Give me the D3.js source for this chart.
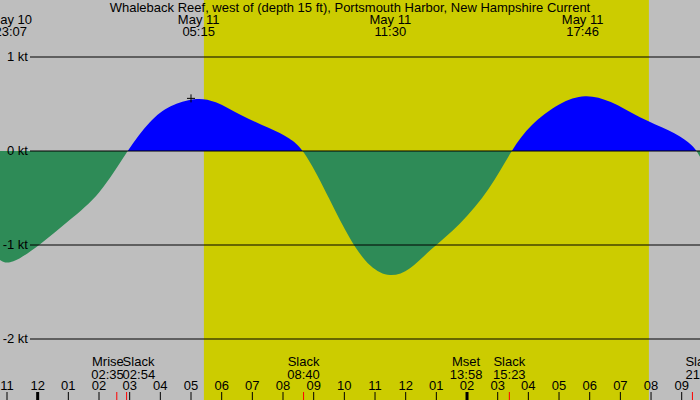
<!DOCTYPE html>
<html><head><meta charset="utf-8">
<script src="https://cdn.jsdelivr.net/npm/d3@7"></script>
<style>body{margin:0}svg{display:block;font-family:"Liberation Sans",Arial,sans-serif;font-size:13px}</style>
</head><body><svg id="c" width="700" height="400"></svg>
<script>
// hours since May 10 23:00
const curveT = [-0.23,0.1,1.08,2.05,3.03,3.91,4.66,5.31,6.13,6.78,7.6,8.58,9.23,9.72,10.53,11.18,11.84,12.49,13.14,13.79,14.77,15.75,16.43,17.05,18.03,18.85,19.66,20.64,21.62,22.27,22.5,22.66];
const curveV = [-1.16,-1.22,-1.0,-0.73,-0.47,0,0.33,0.49,0.57,0.54,0.38,0.24,0.14,0,-0.52,-0.95,-1.25,-1.35,-1.27,-1.05,-0.79,-0.41,0,0.28,0.52,0.61,0.54,0.35,0.22,0.09,0,-0.1];
const dayStart = 6.42, dayEnd = 20.93;
const hourLabels = ["11","12","01","02","03","04","05","06","07","08","09","10","11","12","01","02","03","04","05","06","07","08","09"];
const majorTicks = [1, 15];
const ktLevels = [1,0,-1,-2];
const topLabels = [{t:0.12,a:"May 10",b:"23:07"},{t:6.25,a:"May 11",b:"05:15"},{t:12.5,a:"May 11",b:"11:30"},{t:18.77,a:"May 11",b:"17:46"}];
const events = [{t:3.58,a:"Mrise",b:"02:35",anchor:"end",dx:7},{t:3.9,a:"Slack",b:"02:54",anchor:"start",dx:-4},{t:9.67,a:"Slack",b:"08:40"},{t:14.97,a:"Mset",b:"13:58"},{t:16.38,a:"Slack",b:"15:23"},{t:22.35,a:"Slack",b:"21:21",anchor:"start",dx:-7}];
const redTicks = [3.58,3.9,9.67,16.38,22.35];

const svg = d3.select("#c");
const x = d3.scaleLinear().domain([0,22]).range([7,681.7]);
const y = d3.scaleLinear().domain([1,-2]).range([57,339]);

svg.append("rect").attr("width",700).attr("height",400).attr("fill","#bebebe");
svg.append("rect").attr("x",x(dayStart)).attr("width",x(dayEnd)-x(dayStart)).attr("y",0).attr("height",400).attr("fill","#cccc00");

const pts = curveT.map((t,i)=>[t,curveV[i]]);
const defs = svg.append("defs");
defs.append("clipPath").attr("id","pos").append("rect").attr("x",0).attr("y",0).attr("width",700).attr("height",y(0));
defs.append("clipPath").attr("id","neg").append("rect").attr("x",0).attr("y",y(0)).attr("width",700).attr("height",400);
const area = d3.area().x(d=>x(d[0])).y0(y(0)).y1(d=>y(d[1])).curve(d3.curveBasis);
svg.append("path").datum(pts).attr("d",area).attr("fill","#0000ff").attr("clip-path","url(#pos)");
svg.append("path").datum(pts).attr("d",area).attr("fill","#2e8b57").attr("clip-path","url(#neg)");

ktLevels.forEach(k=>{
  svg.append("line").attr("x1",30).attr("x2",700).attr("y1",y(k)).attr("y2",y(k)).attr("stroke","#000");
  svg.append("text").attr("x",28).attr("y",y(k)+4).attr("text-anchor","end").text(k+" kt");
});

svg.append("path").attr("d",`M${x(6.0)-4},${y(0.56)}h8M${x(6.0)},${y(0.56)-4}v8`).attr("stroke","#000");

svg.append("text").attr("x",350).attr("y",12).attr("text-anchor","middle").text("Whaleback Reef, west of (depth 15 ft), Portsmouth Harbor, New Hampshire Current");
topLabels.forEach(l=>{
  svg.append("text").attr("x",x(l.t)).attr("y",24).attr("text-anchor","middle").text(l.a);
  svg.append("text").attr("x",x(l.t)).attr("y",36).attr("text-anchor","middle").text(l.b);
});
events.forEach(e=>{
  const a = e.anchor||"middle", dx = e.dx||0;
  svg.append("text").attr("x",x(e.t)+dx).attr("y",366).attr("text-anchor",a).text(e.a);
  svg.append("text").attr("x",x(e.t)+dx).attr("y",379).attr("text-anchor",a).text(e.b);
});
hourLabels.forEach((h,i)=>{
  svg.append("text").attr("x",x(i)).attr("y",390).attr("text-anchor","middle").text(h);
  svg.append("line").attr("x1",x(i)).attr("x2",x(i)).attr("y1",392).attr("y2",400).attr("stroke","#000").attr("stroke-width",majorTicks.includes(i)?3:1);
});
redTicks.forEach(t=>svg.append("line").attr("x1",x(t)).attr("x2",x(t)).attr("y1",392).attr("y2",400).attr("stroke","red"));
</script></body></html>
